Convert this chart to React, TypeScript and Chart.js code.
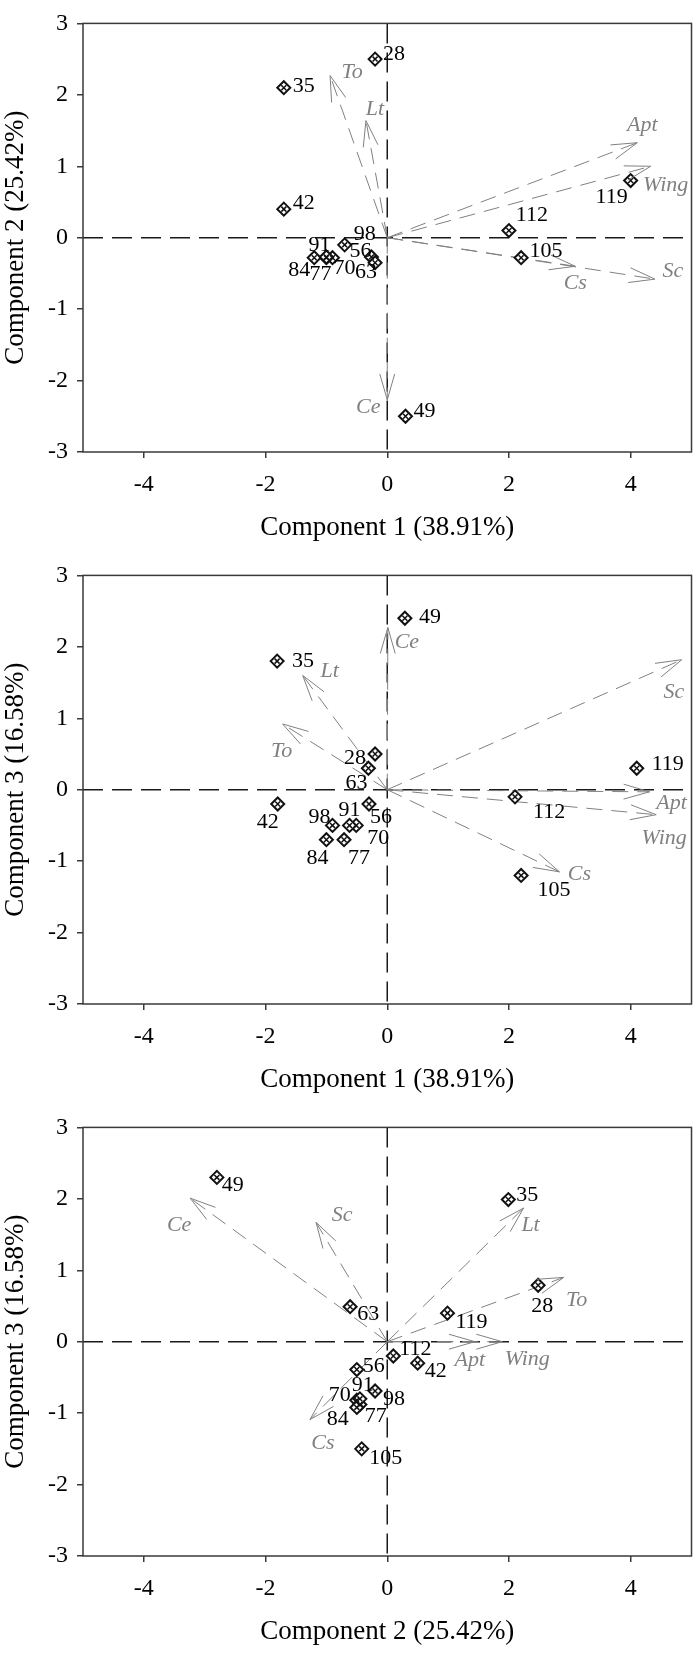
import React, { useEffect, useRef } from 'react';
import { Chart, registerables } from 'chart.js';

Chart.register(...registerables);

// ---------- shared labels ----------
const sampleIds = ['28', '35', '42', '49', '56', '63', '70', '77', '84', '91', '98', '105', '112', '119'];
const variableNames = ['To', 'Lt', 'Apt', 'Wing', 'Sc', 'Cs', 'Ce'];
const xTickValues = [-4, -2, 0, 2, 4];
const yTickValues = [-3, -2, -1, 0, 1, 2, 3];
const comp1Title = 'Component 1 (38.91%)';
const comp2Title = 'Component 2 (25.42%)';
const comp3Title = 'Component 3 (16.58%)';

// ---------- panel A: Component 1 vs Component 2 ----------
const aScoreX = [-0.2, -1.7, -1.7, 0.3, -0.26, -0.2, -0.9, -1.0, -1.2, -1.0, -0.7, 2.2, 2.0, 4.0];
const aScoreY = [2.5, 2.1, 0.4, -2.5, -0.27, -0.35, -0.28, -0.28, -0.28, -0.27, -0.1, -0.28, 0.1, 0.8];
const aLoadX = [-0.94, -0.35, 4.11, 4.33, 4.4, 3.09, 0.0];
const aLoadY = [2.27, 1.64, 1.33, 1.0, -0.58, -0.4, -2.27];
const aScoreLabelShift = [[19, -5], [20, -1], [20, -6], [19, -5], [-11, -6], [-9, 10], [12, 11], [-6, 17], [-15, 13], [-7, -12], [20, -11], [25, -6], [23, -15], [-19, 17]];
const aLoadLabelShift = [[22, -3], [9, -11], [5, -17], [15, 19], [18, -8], [0, 17], [-19, 7]];

// ---------- panel B: Component 1 vs Component 3 ----------
const bScoreX = [-0.2, -1.81, -1.8, 0.29, -0.3, -0.31, -0.51, -0.71, -1.0, -0.62, -0.9, 2.2, 2.1, 4.1];
const bScoreY = [0.5, 1.8, -0.2, 2.4, -0.2, 0.3, -0.5, -0.7, -0.7, -0.5, -0.5, -1.2, -0.1, 0.3];
const bLoadX = [-1.72, -1.39, 4.31, 4.42, 4.84, 2.83, 0.01];
const bLoadY = [0.92, 1.6, -0.03, -0.35, 1.82, -1.15, 2.27];
const bScoreLabelShift = [[-20, 4], [26, 0], [-10, 18], [25, -1], [12, 13], [-12, 15], [22, 13], [15, 19], [-9, 19], [0, -15], [-13, -8], [33, 15], [34, 15], [31, -4]];
const bLoadLabelShift = [[-1, 27], [27, -4], [22, 11], [8, 24], [-8, 33], [20, 2], [19, 15]];

// ---------- panel C: Component 2 vs Component 3 ----------
const cScoreX = [2.48, 1.99, 0.5, -2.8, -0.5, -0.61, -0.5, -0.45, -0.5, -0.45, -0.2, -0.42, 0.1, 0.99];
const cScoreY = [0.79, 1.99, -0.3, 2.3, -0.39, 0.49, -0.82, -0.88, -0.92, -0.8, -0.69, -1.5, -0.2, 0.4];
const cLoadX = [2.9, 2.24, 1.44, 1.89, -1.17, -1.27, -3.24];
const cLoadY = [0.9, 1.87, 0.0, 0.0, 1.67, -1.09, 2.01];
const cScoreLabelShift = [[4, 21], [19, -4], [18, 8], [16, 8], [17, -3], [18, 8], [-17, -5], [16, 12], [-19, 12], [3, -14], [19, 8], [24, 9], [22, -7], [24, 9]];
const cLoadLabelShift = [[13, 23], [7, 17], [-5, 19], [25, 18], [26, -7], [13, 24], [-11, 27]];

const SERIF = '"Liberation Serif", "Times New Roman", serif';

type Panel = {
  key: string;
  xTitle: string;
  yTitle: string;
  scoreX: number[];
  scoreY: number[];
  loadX: number[];
  loadY: number[];
  scoreShift: number[][];
  loadShift: number[][];
};

const panels: Panel[] = [
  { key: 'a', xTitle: comp1Title, yTitle: comp2Title, scoreX: aScoreX, scoreY: aScoreY, loadX: aLoadX, loadY: aLoadY, scoreShift: aScoreLabelShift, loadShift: aLoadLabelShift },
  { key: 'b', xTitle: comp1Title, yTitle: comp3Title, scoreX: bScoreX, scoreY: bScoreY, loadX: bLoadX, loadY: bLoadY, scoreShift: bScoreLabelShift, loadShift: bLoadLabelShift },
  { key: 'c', xTitle: comp2Title, yTitle: comp3Title, scoreX: cScoreX, scoreY: cScoreY, loadX: cLoadX, loadY: cLoadY, scoreShift: cScoreLabelShift, loadShift: cLoadLabelShift },
];

const ARROW_COLOR = '#808080';

function biplotPlugin(p: Panel) {
  return {
    id: 'biplot-' + p.key,
    beforeDatasetsDraw(chart: any) {
      const { ctx, chartArea: a, scales } = chart;
      const x0 = scales.x.getPixelForValue(0);
      const y0 = scales.y.getPixelForValue(0);
      ctx.save();
      ctx.strokeStyle = '#1a1a1a';
      ctx.lineWidth = 1.5;
      ctx.setLineDash([20, 9]);
      ctx.beginPath();
      ctx.moveTo(a.left, y0);
      ctx.lineTo(a.right, y0);
      ctx.stroke();
      ctx.beginPath();
      ctx.moveTo(x0, a.top);
      ctx.lineTo(x0, a.bottom);
      ctx.stroke();
      ctx.restore();
    },
    afterDatasetsDraw(chart: any) {
      const { ctx, chartArea: a, scales } = chart;
      const sx = scales.x;
      const sy = scales.y;
      const ox = sx.getPixelForValue(0);
      const oy = sy.getPixelForValue(0);
      ctx.save();
      // arrow heads
      ctx.setLineDash([]);
      ctx.strokeStyle = ARROW_COLOR;
      ctx.lineWidth = 1;
      const L = 27;
      const phi = 0.28;
      p.loadX.forEach((lx, i) => {
        const tx = sx.getPixelForValue(lx);
        const ty = sy.getPixelForValue(p.loadY[i]);
        const th = Math.atan2(ty - oy, tx - ox);
        ctx.beginPath();
        ctx.moveTo(tx - L * Math.cos(th - phi), ty - L * Math.sin(th - phi));
        ctx.lineTo(tx, ty);
        ctx.lineTo(tx - L * Math.cos(th + phi), ty - L * Math.sin(th + phi));
        ctx.stroke();
      });
      // variable labels
      ctx.font = 'italic 22px ' + SERIF;
      ctx.fillStyle = ARROW_COLOR;
      ctx.textAlign = 'center';
      ctx.textBaseline = 'middle';
      variableNames.forEach((name, i) => {
        const tx = sx.getPixelForValue(p.loadX[i]);
        const ty = sy.getPixelForValue(p.loadY[i]);
        ctx.fillText(name, tx + p.loadShift[i][0], ty + p.loadShift[i][1]);
      });
      // sample labels
      ctx.font = '22px ' + SERIF;
      ctx.fillStyle = '#000';
      sampleIds.forEach((id, i) => {
        const px = sx.getPixelForValue(p.scoreX[i]);
        const py = sy.getPixelForValue(p.scoreY[i]);
        ctx.fillText(id, px + p.scoreShift[i][0], py + p.scoreShift[i][1]);
      });
      // frame
      ctx.strokeStyle = '#3a3a3a';
      ctx.lineWidth = 1.5;
      ctx.strokeRect(a.left, a.top, a.right - a.left, a.bottom - a.top);
      ctx.restore();
    },
  };
}

function buildConfig(p: Panel): any {
  const points = sampleIds.map((_, i) => ({ x: p.scoreX[i], y: p.scoreY[i] }));
  const arrowSets = variableNames.map((name, i) => ({
    label: name,
    data: [{ x: 0, y: 0 }, { x: p.loadX[i], y: p.loadY[i] }],
    showLine: true,
    borderColor: ARROW_COLOR,
    borderWidth: 1,
    borderDash: [16, 9],
    pointRadius: 0,
    order: 5,
  }));
  const tickFont = { family: SERIF, size: 24 };
  const titleFont = { family: SERIF, size: 27 };
  return {
    type: 'scatter',
    data: {
      datasets: [
        ...arrowSets,
        {
          label: 'samples',
          data: points,
          pointStyle: 'rectRot',
          pointRadius: 6.5,
          borderWidth: 2,
          pointBorderColor: '#111',
          pointBackgroundColor: '#fff',
          order: 1,
        },
        {
          label: 'samples-inner',
          data: points,
          pointStyle: 'crossRot',
          pointRadius: 3.5,
          borderWidth: 1.5,
          pointBorderColor: '#111',
          order: 0,
        },
      ],
    },
    options: {
      animation: false,
      responsive: false,
      devicePixelRatio: 1,
      events: [],
      layout: { padding: { top: 11, right: 1, left: 0, bottom: 0 } },
      plugins: { legend: { display: false }, tooltip: { enabled: false } },
      scales: {
        x: {
          type: 'linear',
          min: -5,
          max: 5,
          afterBuildTicks: (s: any) => { s.ticks = xTickValues.map((v) => ({ value: v })); },
          afterFit: (s: any) => { s.height = 100; },
          ticks: { font: tickFont, color: '#000', padding: 12, maxRotation: 0, autoSkip: false, callback: (v: any) => String(v) },
          grid: { display: true, drawOnChartArea: false, drawTicks: true, tickLength: 6, color: '#3a3a3a', lineWidth: 1.5 },
          border: { display: false },
          title: { display: true, text: p.xTitle, font: titleFont, color: '#000', padding: { top: 0, bottom: 8 } },
        },
        y: {
          type: 'linear',
          min: -3,
          max: 3,
          afterBuildTicks: (s: any) => { s.ticks = yTickValues.map((v) => ({ value: v })); },
          afterFit: (s: any) => { s.width = 83; },
          ticks: { font: tickFont, color: '#000', padding: 9, autoSkip: false, callback: (v: any) => String(v) },
          grid: { display: true, drawOnChartArea: false, drawTicks: true, tickLength: 6, color: '#3a3a3a', lineWidth: 1.5 },
          border: { display: false },
          title: { display: true, text: p.yTitle, font: titleFont, color: '#000', padding: { top: 0, bottom: 0 } },
        },
      },
    },
    plugins: [biplotPlugin(p)],
  };
}

function BiplotPanel({ panel }: { panel: Panel }) {
  const ref = useRef<HTMLCanvasElement | null>(null);
  useEffect(() => {
    if (!ref.current) return;
    const chart = new Chart(ref.current, buildConfig(panel));
    return () => chart.destroy();
  }, [panel]);
  return <canvas ref={ref} width={700} height={552} style={{ display: 'block', width: '700px', height: '552px' }} />;
}

export default function App() {
  useEffect(() => {
    document.body.style.margin = '0';
  }, []);
  return (
    <div style={{ width: 700, background: '#fff' }}>
      {panels.map((p) => (
        <BiplotPanel key={p.key} panel={p} />
      ))}
    </div>
  );
}
